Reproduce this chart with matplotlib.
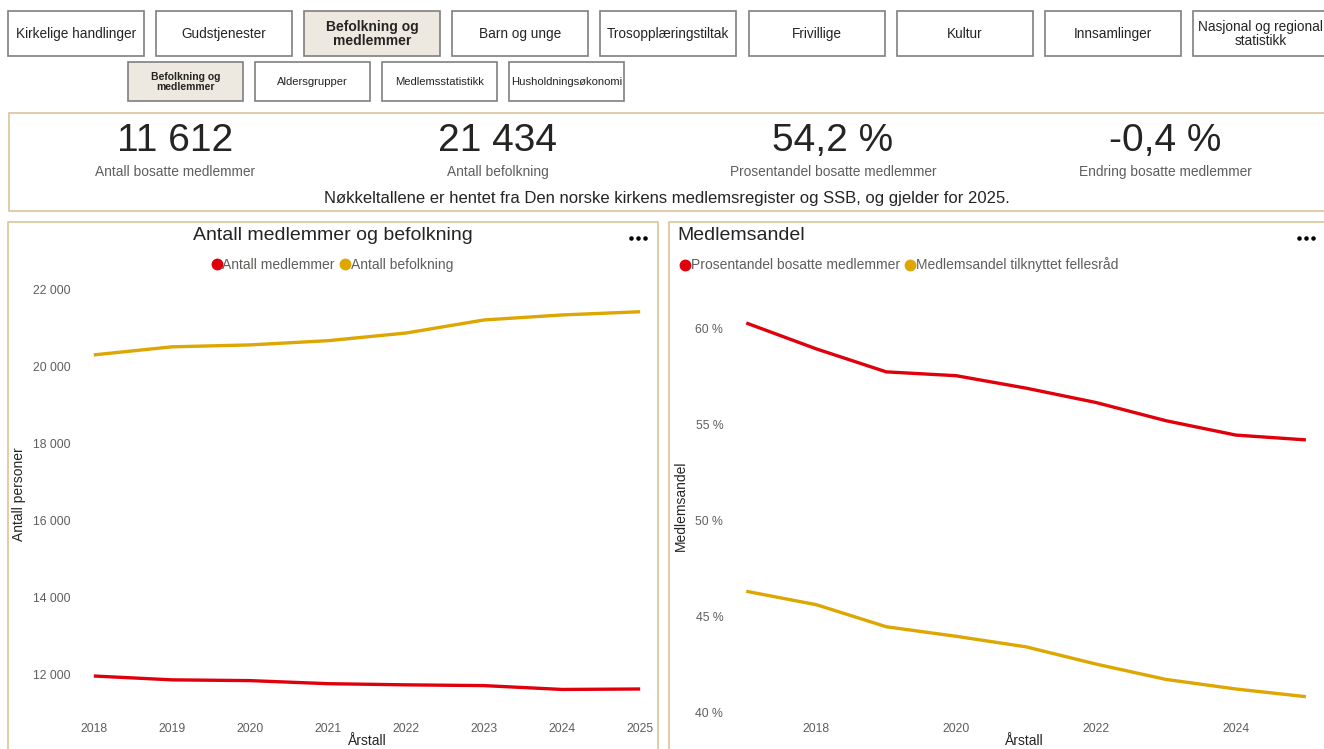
import matplotlib
matplotlib.use("Agg")
import matplotlib.pyplot as plt
from matplotlib.patches import Rectangle
from matplotlib.lines import Line2D
from matplotlib.ticker import FuncFormatter

plt.rcParams['font.family'] = ['Liberation Sans', 'DejaVu Sans']

# ---- data ----
nav_labels = ["Kirkelige handlinger", "Gudstjenester", "Befolkning og\nmedlemmer",
              "Barn og unge", "Trosopplæringstiltak", "Frivillige", "Kultur",
              "Innsamlinger", "Nasjonal og regional\nstatistikk"]
nav_selected = 2
sub_labels = ["Befolkning og\nmedlemmer", "Aldersgrupper", "Medlemsstatistikk",
              "Husholdningsøkonomi"]
sub_selected = 0

kpi_values = ["11 612", "21 434", "54,2 %", "-0,4 %"]
kpi_labels = ["Antall bosatte medlemmer", "Antall befolkning",
              "Prosentandel bosatte medlemmer", "Endring bosatte medlemmer"]
kpi_note = "Nøkkeltallene er hentet fra Den norske kirkens medlemsregister og SSB, og gjelder for 2025."

years_left = [2018, 2019, 2020, 2021, 2022, 2023, 2024, 2025]
members = [11950, 11850, 11830, 11750, 11720, 11700, 11600, 11612]
population = [20310, 20520, 20570, 20680, 20880, 21220, 21350, 21434]

years_right = [2017, 2018, 2019, 2020, 2021, 2022, 2023, 2024, 2025]
share_resident = [60.3, 58.95, 57.75, 57.55, 56.9, 56.15, 55.2, 54.45, 54.2]
share_council = [46.3, 45.6, 44.45, 43.95, 43.4, 42.5, 41.7, 41.2, 40.8]

RED = '#E0000B'
GOLD = '#DDA600'
TAN = '#D9C49B'
DARK = '#252423'
GRAY = '#605E5C'

W, H = 1324, 749
fig = plt.figure(figsize=(W / 100, H / 100), dpi=100)


def box(x0, y0, x1, y1):
    return [x0 / W, 1 - y1 / H, (x1 - x0) / W, (y1 - y0) / H]


bg = fig.add_axes([0, 0, 1, 1], zorder=0)
bg.set_xlim(0, W)
bg.set_ylim(H, 0)
bg.axis('off')

# top navigation
for i, lab in enumerate(nav_labels):
    x0 = 8 + i * 148.1
    sel = i == nav_selected
    bg.add_patch(Rectangle((x0, 11), 136, 45, facecolor='#EEE9E0' if sel else 'white',
                           edgecolor='#7F7F7F', lw=1.2))
    bg.text(x0 + 68, 34, lab, ha='center', va='center', fontsize=10 if sel else 9.8,
            fontweight='bold' if sel else 'normal', color=DARK, linespacing=0.95)

for i, lab in enumerate(sub_labels):
    x0 = 128 + i * 127
    sel = i == sub_selected
    bg.add_patch(Rectangle((x0, 62), 115, 39, facecolor='#EEE9E0' if sel else 'white',
                           edgecolor='#7F7F7F', lw=1.2))
    bg.text(x0 + 57.5, 82, lab, ha='center', va='center', fontsize=7.5 if sel else 8.1,
            fontweight='bold' if sel else 'normal', color=DARK, linespacing=0.95)

# KPI card
bg.add_patch(Rectangle((9, 113), 1320, 98, facecolor='white', edgecolor=TAN, lw=1.2))
kpi_x = [175, 498, 833, 1165]
for x, v, lab in zip(kpi_x, kpi_values, kpi_labels):
    bg.text(x, 141, v, ha='center', va='center', fontsize=28, color=DARK)
    bg.text(x, 172, lab, ha='center', va='center', fontsize=9.9, color=GRAY)
bg.text(667, 199, kpi_note, ha='center', va='center', fontsize=12, color=DARK)

# chart panels
for (x0, x1) in [(8, 658), (669, 1330)]:
    bg.add_patch(Rectangle((x0, 222), x1 - x0, 540, facecolor='white', edgecolor=TAN, lw=1.2))
bg.text(333, 236, "Antall medlemmer og befolkning", ha='center', va='center',
        fontsize=14, color=DARK)
bg.text(677, 236, "Medlemsandel", ha='left', va='center', fontsize=14, color=DARK)
for x in [638, 1306]:
    bg.scatter([x - 7, x, x + 7], [238, 238, 238], s=5, color='black', zorder=3)


def style_axis(ax):
    for s in ax.spines.values():
        s.set_visible(False)
    ax.tick_params(length=0, labelsize=8.8, labelcolor=GRAY)
    ax.grid(False)


def legend_handles(labels, colors):
    return [Line2D([0], [0], marker='o', color='none', markerfacecolor=c,
                   markeredgecolor=c, markersize=7.5, label=l) for l, c in zip(labels, colors)]


# left chart
axl = fig.add_axes(box(79, 280, 655, 708), zorder=1)
axl.patch.set_alpha(0)
axl.plot(years_left, members, color=RED, lw=2.4, solid_capstyle='butt')
axl.plot(years_left, population, color=GOLD, lw=2.4, solid_capstyle='butt')
axl.set_xlim(2017.81, 2025.19)
axl.set_ylim(11117, 22260)
axl.set_xticks(years_left)
axl.set_yticks([12000, 14000, 16000, 18000, 20000, 22000])
axl.yaxis.set_major_formatter(FuncFormatter(lambda v, p: f"{int(v):,}".replace(",", " ")))
style_axis(axl)
axl.tick_params(axis='x', pad=11)
axl.tick_params(axis='y', pad=6)
axl.set_xlabel("Årstall", fontsize=10, color=DARK, va='center')
axl.xaxis.set_label_coords(0.5, -(741 - 708) / 428)
axl.set_ylabel("Antall personer", fontsize=10, color=DARK)
axl.yaxis.set_label_coords(-(79 - 26) / 576, 0.5)
axl.legend(handles=legend_handles(["Antall medlemmer", "Antall befolkning"], [RED, GOLD]),
           loc='center', bbox_to_anchor=(333 / W, 1 - 265 / H), bbox_transform=fig.transFigure,
           ncol=2, frameon=False, fontsize=10, labelcolor=GRAY, handlelength=0.5,
           handletextpad=0.15, columnspacing=0.5, borderaxespad=0)

# right chart
axr = fig.add_axes(box(733, 300, 1315, 712), zorder=1)
axr.patch.set_alpha(0)
axr.plot(years_right, share_resident, color=RED, lw=2.4, solid_capstyle='butt')
axr.plot(years_right, share_council, color=GOLD, lw=2.4, solid_capstyle='butt')
axr.set_xlim(2016.81, 2025.13)
axr.set_ylim(40, 61.5)
axr.set_xticks([2018, 2020, 2022, 2024])
axr.set_yticks([40, 45, 50, 55, 60])
axr.yaxis.set_major_formatter(FuncFormatter(lambda v, p: f"{int(v)} %"))
style_axis(axr)
axr.tick_params(axis='x', pad=8)
axr.tick_params(axis='y', pad=7)
axr.set_xlabel("Årstall", fontsize=10, color=DARK, va='center')
axr.xaxis.set_label_coords(0.5, -(741 - 712) / 412)
axr.set_ylabel("Medlemsandel", fontsize=10, color=DARK)
axr.yaxis.set_label_coords(-(733 - 688) / 582, 0.5)
axr.legend(handles=legend_handles(["Prosentandel bosatte medlemmer",
                                   "Medlemsandel tilknyttet fellesråd"], [RED, GOLD]),
           loc='center left', bbox_to_anchor=(676 / W, 1 - 265 / H), bbox_transform=fig.transFigure,
           ncol=2, frameon=False, fontsize=10, labelcolor=GRAY, handlelength=0.5,
           handletextpad=0.15, columnspacing=0.5, borderaxespad=0)

fig.savefig("out.png", dpi=100)
